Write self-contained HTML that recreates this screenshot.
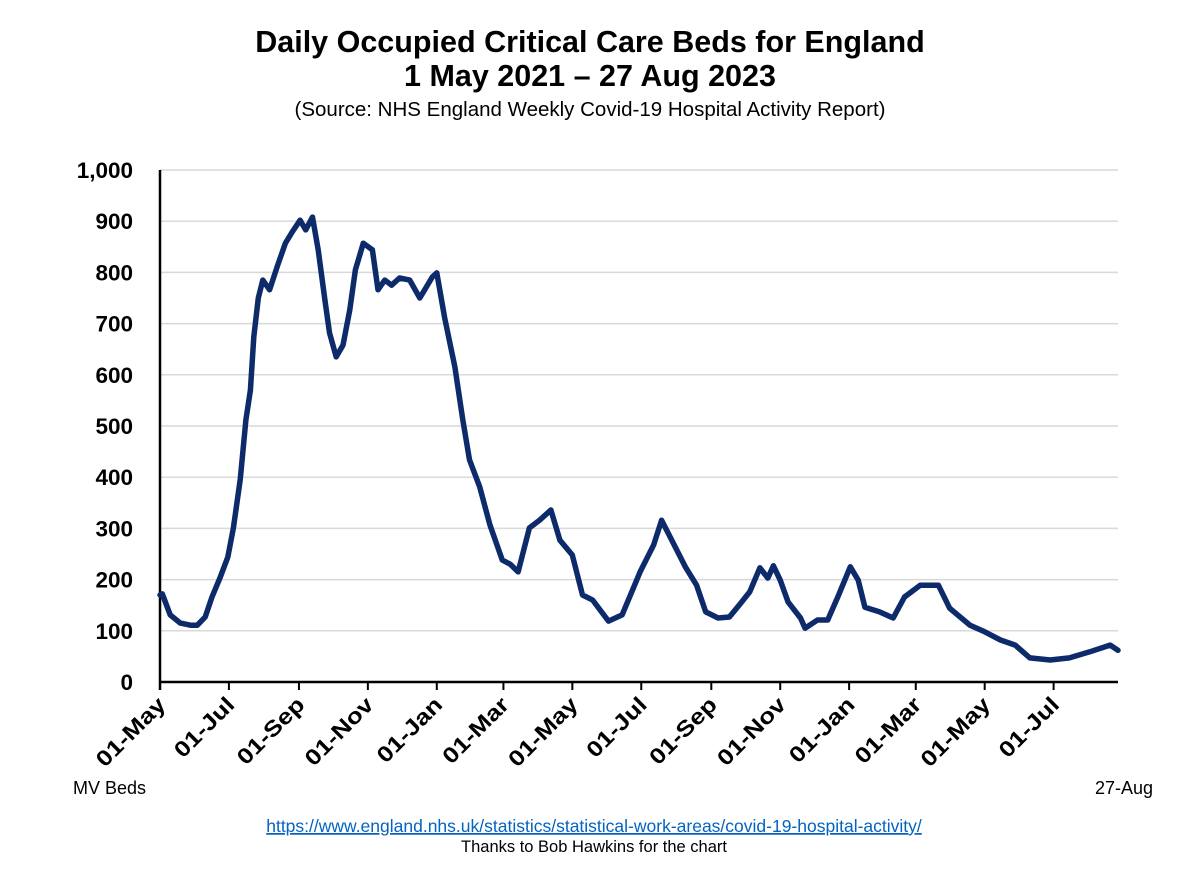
<!DOCTYPE html>
<html><head><meta charset="utf-8"><style>
body{margin:0;background:#fff;width:1200px;height:868px;overflow:hidden;font-family:"Liberation Sans",sans-serif}
</style></head><body>
<svg id="chart" width="1200" height="868" xmlns="http://www.w3.org/2000/svg">
<text x="590" y="52" text-anchor="middle" font-size="30.5" font-weight="bold" font-family="Liberation Sans">Daily Occupied Critical Care Beds for England</text>
<text x="590" y="86" text-anchor="middle" font-size="30.5" font-weight="bold" font-family="Liberation Sans">1 May 2021 – 27 Aug 2023</text>
<text x="590" y="116" text-anchor="middle" font-size="20.5" font-family="Liberation Sans">(Source: NHS England Weekly Covid-19 Hospital Activity Report)</text>
<g id="grid"></g><g id="axes"></g><g id="series"></g>
<text x="73" y="794" font-size="18" font-family="Liberation Sans">MV Beds</text>
<text x="1153" y="794" text-anchor="end" font-size="18" font-family="Liberation Sans">27-Aug</text>
<a><text x="594" y="832" text-anchor="middle" font-size="17.5" fill="#0563c1" text-decoration="underline" font-family="Liberation Sans">https://www.england.nhs.uk/statistics/statistical-work-areas/covid-19-hospital-activity/</text></a>
<text x="594" y="852" text-anchor="middle" font-size="16.5" font-family="Liberation Sans">Thanks to Bob Hawkins for the chart</text>
</svg>
<script>
const dayOffsets=[0,2,9,18,27,33,40,46,53,60,65,71,76,80,83,87,91,97,104,111,117,124,129,135,140,146,150,156,162,168,173,180,188,193,199,205,212,221,230,241,245,252,261,268,274,283,292,303,310,317,327,336,346,354,365,374,383,397,409,425,437,444,453,465,475,483,494,504,514,522,531,538,543,549,556,567,571,582,591,600,611,618,624,637,649,659,673,689,699,717,730,744,757,770,788,805,823,841,848];
const bedValues=[170,172,131,115,111,111,127,166,203,244,301,395,512,570,674,750,785,766,813,857,879,902,883,908,844,746,682,635,658,727,805,857,844,766,785,775,789,785,750,791,799,711,615,512,434,381,307,238,230,215,301,316,336,277,248,170,160,119,131,215,268,316,277,225,189,137,125,127,154,176,223,203,227,199,156,125,105,121,121,166,225,199,146,137,125,166,189,189,144,111,98,82,72,47,43,47,59,72,62];
const yTicks=[0,100,200,300,400,500,600,700,800,900,1000];
const yTickLabels=["0","100","200","300","400","500","600","700","800","900","1,000"];
const xTickDays=[0,61,123,184,245,304,365,426,488,549,610,669,730,791];
const xTickLabels=["01-May","01-Jul","01-Sep","01-Nov","01-Jan","01-Mar","01-May","01-Jul","01-Sep","01-Nov","01-Jan","01-Mar","01-May","01-Jul"];
const NS="http://www.w3.org/2000/svg";
const X0=160,X1=1118,Y0=682,Y1=170,DMAX=848,VMAX=1000;
const xs=d=>X0+d*(X1-X0)/DMAX, ys=v=>Y0-v*(Y0-Y1)/VMAX;
function mk(t,a,p){const e=document.createElementNS(NS,t);for(const k in a)e.setAttribute(k,a[k]);p.appendChild(e);return e;}
const grid=document.getElementById('grid'),axes=document.getElementById('axes'),ser=document.getElementById('series');
yTicks.forEach((v,i)=>{
 if(v>0){const l=mk('line',{x1:X0,x2:X1,y1:ys(v),y2:ys(v),stroke:'#d9d9d9','stroke-width':1.5},grid);
 
 }
 const t=mk('text',{x:133,y:ys(v)+8,'text-anchor':'end','font-size':22.5,'font-weight':'bold','font-family':'Liberation Sans'},axes);
 t.textContent=yTickLabels[i];
 
 
});
const ya=mk('line',{x1:X0,x2:X0,y1:Y1,y2:Y0+8,stroke:'#000','stroke-width':2.5},axes);


const xa=mk('line',{x1:X0,x2:X1,y1:Y0,y2:Y0,stroke:'#000','stroke-width':2.5},axes);


xTickDays.forEach((d,i)=>{
 const x=xs(d);
 const tk=mk('line',{x1:x,x2:x,y1:Y0,y2:Y0+8,stroke:'#000','stroke-width':2},axes);
 
 
 const t=mk('text',{x:x+7,y:Y0+24,'text-anchor':'end','font-size':22,'font-weight':'bold','font-family':'Liberation Sans',transform:`rotate(-45 ${x+7} ${Y0+24})`},axes);
 t.textContent=xTickLabels[i];
 
 
 const n=t.getComputedTextLength();
 t.setAttribute('textLength',(n*1.18).toFixed(1));
 t.setAttribute('lengthAdjust','spacingAndGlyphs');
});
const pts=dayOffsets.map((d,i)=>xs(d).toFixed(1)+','+ys(bedValues[i]).toFixed(1)).join(' ');
const pl=mk('polyline',{points:pts,fill:'none',stroke:'#0d2a6b','stroke-width':5.5,'stroke-linejoin':'round','stroke-linecap':'round'},ser);


</script>
</body></html>
